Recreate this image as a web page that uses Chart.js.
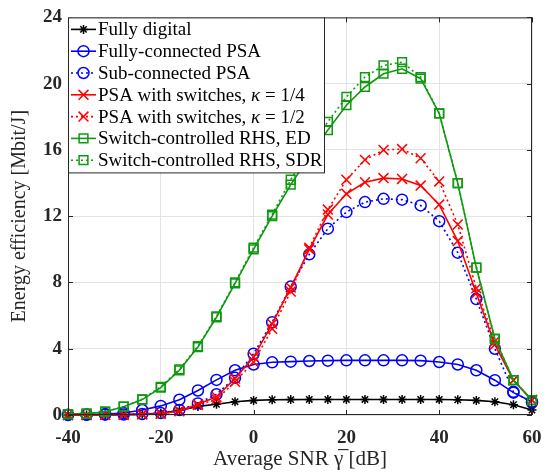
<!DOCTYPE html>
<html>
<head>
<meta charset="utf-8">
<script src="https://cdn.jsdelivr.net/npm/chart.js@4"></script>
<style>
body { margin: 0; background: #fff; }
</style>
</head>
<body>
<canvas id="effChart" width="557" height="475"></canvas>
<script>
// average SNR in dB
const snr = [-40, -36, -32, -28, -24, -20, -16, -12, -8, -4, 0, 4, 8, 12, 16, 20, 24, 28, 32, 36, 40, 44, 48, 52, 56, 60];

// energy efficiency in Mbit/J
const fullyDigital = [0.0, 0.0, 0.01, 0.02, 0.05, 0.1, 0.28, 0.52, 0.65, 0.8, 0.88, 0.92, 0.93, 0.94, 0.94, 0.94, 0.94, 0.94, 0.94, 0.94, 0.94, 0.92, 0.88, 0.8, 0.62, 0.3];
const fullyConnected = [0.02, 0.03, 0.06, 0.12, 0.3, 0.55, 0.92, 1.48, 2.12, 2.7, 3.05, 3.18, 3.22, 3.26, 3.28, 3.3, 3.3, 3.3, 3.3, 3.28, 3.2, 3.05, 2.7, 2.1, 1.35, 0.8];
const subConnected = [0.0, 0.01, 0.02, 0.03, 0.06, 0.12, 0.3, 0.7, 1.25, 2.25, 3.7, 5.6, 7.75, 9.7, 11.25, 12.25, 12.85, 13.05, 13.0, 12.65, 11.7, 9.8, 7.0, 4.0, 1.4, 0.75];
const switchesQuarter = [0.0, 0.0, 0.01, 0.02, 0.04, 0.08, 0.25, 0.65, 1.1, 2.2, 3.5, 5.5, 7.7, 10.0, 12.1, 13.35, 14.05, 14.3, 14.25, 13.85, 12.7, 10.5, 7.35, 4.25, 2.1, 0.9];
const switchesHalf = [0.0, 0.0, 0.01, 0.02, 0.04, 0.08, 0.22, 0.6, 0.95, 2.0, 3.2, 5.2, 7.45, 10.1, 12.4, 14.2, 15.4, 16.0, 16.05, 15.5, 14.1, 11.5, 7.65, 4.45, 2.1, 0.9];
const rhsED = [0.05, 0.08, 0.2, 0.5, 0.93, 1.65, 2.7, 4.1, 5.9, 7.95, 10.0, 12.0, 13.9, 15.6, 17.2, 18.7, 19.8, 20.6, 20.9, 20.3, 18.2, 14.0, 8.9, 4.6, 2.1, 0.9];
const rhsSDR = [0.05, 0.08, 0.2, 0.5, 0.95, 1.7, 2.75, 4.15, 5.95, 8.0, 10.1, 12.1, 14.2, 16.0, 17.7, 19.2, 20.4, 21.1, 21.3, 20.4, 18.2, 14.0, 8.9, 4.6, 2.1, 0.9];

const xTicks = [-40, -20, 0, 20, 40, 60];
const yTicks = [0, 4, 8, 12, 16, 20, 24];

const seriesLabels = [
    'Fully digital',
    'Fully-connected PSA',
    'Sub-connected PSA',
    'PSA with switches, \u03BA = 1/4',
    'PSA with switches, \u03BA = 1/2',
    'Switch-controlled RHS, ED',
    'Switch-controlled RHS, SDR'
];

const serif = '"Liberation Serif", "DejaVu Serif", serif';
const green = '#0f990f';
const dotted = [2, 3];

function makeSet(i, values, colour, style, radius, dash) {
    return {
        label: seriesLabels[i],
        data: values.map((v, k) => ({ x: snr[k], y: v })),
        borderColor: colour,
        backgroundColor: colour,
        borderWidth: 1.6,
        borderDash: dash,
        pointStyle: style,
        pointRadius: radius,
        pointBorderColor: colour,
        pointBackgroundColor: 'rgba(0,0,0,0)',
        pointBorderWidth: 1.5,
        tension: 0,
        clip: 12,
        order: 7 - i
    };
}

const datasets = [
    makeSet(0, fullyDigital, '#000000', 'star', 4.5, []),
    makeSet(1, fullyConnected, '#0000ff', 'circle', 5.5, []),
    makeSet(2, subConnected, '#0000ff', 'circle', 5.5, dotted),
    makeSet(3, switchesQuarter, '#ff0000', 'crossRot', 7, []),
    makeSet(4, switchesHalf, '#ff0000', 'crossRot', 7, dotted),
    makeSet(5, rhsED, green, 'rect', 6.2, []),
    makeSet(6, rhsSDR, green, 'rect', 6.2, dotted)
];

// draws text, with the kappa in italics
function legendText(ctx, text, x, y) {
    const parts = text.split('\u03BA');
    ctx.font = '19px ' + serif;
    ctx.fillText(parts[0], x, y);
    if (parts.length < 2) return;
    x += ctx.measureText(parts[0]).width;
    ctx.font = 'italic 19px ' + serif;
    ctx.fillText('\u03BA', x, y);
    x += ctx.measureText('\u03BA').width;
    ctx.font = '19px ' + serif;
    ctx.fillText(parts[1], x, y);
}

const matlabBox = {
    id: 'matlabBox',
    afterDatasetsDraw(chart) {
        const ctx = chart.ctx, a = chart.chartArea;
        const xs = chart.scales.x, ys = chart.scales.y;
        ctx.save();
        ctx.strokeStyle = '#262626';
        ctx.lineWidth = 1;
        ctx.setLineDash([]);
        ctx.beginPath();
        xTicks.forEach(t => {
            const px = Math.round(xs.getPixelForValue(t)) + 0.5;
            ctx.moveTo(px, a.bottom); ctx.lineTo(px, a.bottom - 5);
            ctx.moveTo(px, a.top); ctx.lineTo(px, a.top + 5);
        });
        yTicks.forEach(t => {
            const py = Math.round(ys.getPixelForValue(t)) + 0.5;
            ctx.moveTo(a.left, py); ctx.lineTo(a.left + 5, py);
            ctx.moveTo(a.right, py); ctx.lineTo(a.right - 5, py);
        });
        ctx.stroke();
        ctx.strokeRect(a.left + 0.5, a.top + 0.5, a.width - 1, a.height - 1);
        ctx.restore();
    },
    afterDraw(chart) {
        // legend box in the top-left corner, MATLAB style
        const ctx = chart.ctx, a = chart.chartArea;
        const boxW = 256, rowH = 21.8, boxH = 155;
        ctx.save();
        ctx.fillStyle = '#ffffff';
        ctx.fillRect(a.left, a.top, boxW, boxH);
        ctx.strokeStyle = '#262626';
        ctx.lineWidth = 1;
        ctx.strokeRect(a.left + 0.5, a.top + 0.5, boxW, boxH);
        ctx.textBaseline = 'middle';
        chart.data.datasets.forEach((ds, i) => {
            const y = a.top + 12 + i * rowH;
            ctx.strokeStyle = ds.borderColor;
            ctx.lineWidth = ds.borderWidth;
            ctx.setLineDash(ds.borderDash);
            ctx.beginPath();
            ctx.moveTo(a.left + 3, y);
            ctx.lineTo(a.left + 28, y);
            ctx.stroke();
            ctx.setLineDash([]);
            ctx.lineWidth = ds.pointBorderWidth;
            ctx.fillStyle = 'rgba(0,0,0,0)';
            Chart.helpers.drawPoint(ctx, {
                pointStyle: ds.pointStyle,
                radius: ds.pointRadius,
                borderWidth: ds.pointBorderWidth,
                rotation: 0
            }, a.left + 15.5, y);
            ctx.fillStyle = '#000000';
            legendText(ctx, ds.label, a.left + 30, y + 1);
        });
        ctx.restore();
    }
};

new Chart(document.getElementById('effChart'), {
    type: 'line',
    data: { datasets: datasets },
    options: {
        responsive: false,
        animation: false,
        layout: { padding: { top: 11, right: 25, bottom: 0, left: 0 } },
        plugins: {
            legend: { display: false },
            tooltip: { enabled: false }
        },
        scales: {
            x: {
                type: 'linear',
                min: -40,
                max: 60,
                afterFit: s => { s.height = 60; },
                afterBuildTicks: s => { s.ticks = xTicks.map(v => ({ value: v })); },
                grid: { color: '#e3e3e3', drawTicks: false },
                border: { display: false },
                ticks: {
                    padding: 12,
                    color: '#262626',
                    font: { family: serif, size: 19, weight: 'bold' }
                },
                title: {
                    display: true,
                    text: 'Average SNR \u03B3\u0305 [dB]',
                    color: '#262626',
                    font: { family: serif, size: 21 },
                    padding: { top: 0, bottom: 3 }
                }
            },
            y: {
                min: 0,
                max: 24,
                afterFit: s => { s.width = 68; },
                afterBuildTicks: s => { s.ticks = yTicks.map(v => ({ value: v })); },
                grid: { color: '#e3e3e3', drawTicks: false },
                border: { display: false },
                ticks: {
                    padding: 6,
                    color: '#262626',
                    font: { family: serif, size: 19, weight: 'bold' }
                },
                title: {
                    display: true,
                    text: 'Energy efficiency [Mbit/J]',
                    color: '#262626',
                    font: { family: serif, size: 20 },
                    padding: { top: 8, bottom: 0 }
                }
            }
        }
    },
    plugins: [matlabBox]
});
</script>
</body>
</html>
